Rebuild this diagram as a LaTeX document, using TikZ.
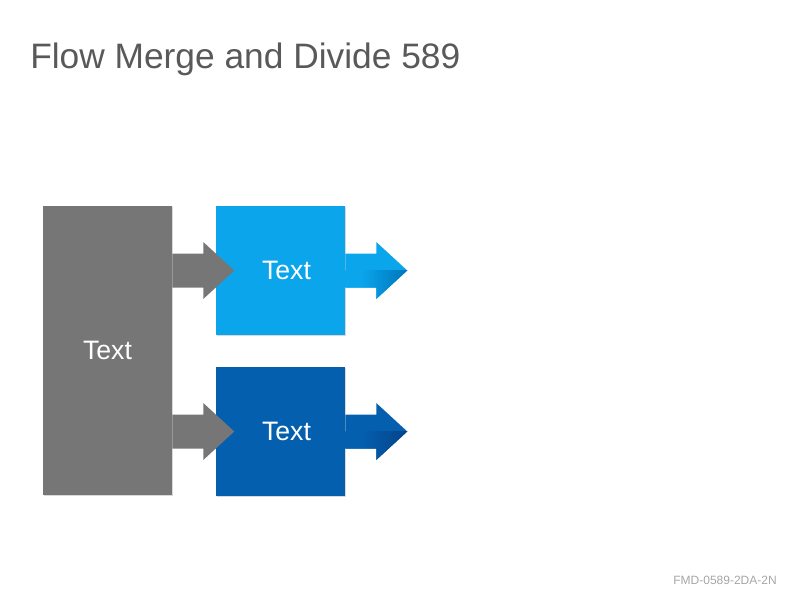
\documentclass[tikz,border=0pt]{standalone}
\usepackage{fontspec}
\setmainfont{Liberation Sans}
\usetikzlibrary{calc,shadows}

\definecolor{srcgray}{RGB}{118,118,118}
\definecolor{skyblue}{RGB}{11,165,236}
\definecolor{skydark}{RGB}{0,120,190}
\definecolor{deepblue}{RGB}{5,95,175}
\definecolor{deepdark}{RGB}{3,70,140}
\definecolor{titlegray}{RGB}{89,89,89}
\definecolor{footgray}{RGB}{166,166,166}

\pgfdeclarehorizontalshading{skyfade}{100bp}{color(0bp)=(skyblue); color(38bp)=(skyblue);
  color(72bp)=(skydark); color(100bp)=(skydark)}
\pgfdeclarehorizontalshading{deepfade}{100bp}{color(0bp)=(deepblue); color(38bp)=(deepblue);
  color(72bp)=(deepdark); color(100bp)=(deepdark)}

% block arrow: start point on the axis, then the style
\newcommand{\flowarrow}[2]{%
  \path[#2] (#1) ++(0,-17) -- ++(31,0) -- ++(0,-11.5) -- ++(31,28.5)
    -- ++(-31,28.5) -- ++(0,-11.5) -- ++(-31,0) -- cycle;}

\tikzset{
  flowbox/.style={draw=none, inner sep=0pt, minimum width=96.75pt,
    text=white, font=\fontsize{20}{24}\selectfont,
    drop shadow={shadow xshift=0.6pt, shadow yshift=-0.9pt, opacity=0.3}},
  boxlabel/.style={text=white, font=\fontsize{20}{24}\selectfont, inner sep=0pt}
}

\begin{document}
\begin{tikzpicture}[x=0.75pt, y=-0.75pt]

    \useasboundingbox (0,0) rectangle (800,600);

    \node [anchor=base west, inner sep=0pt, text=titlegray, font=\fontsize{26.5}{30}\selectfont]
      (title) at (30,68) {Flow Merge and Divide 589};

    \node [flowbox, fill=srcgray, minimum height=216.75pt] (src) at (107.5,350.5) {Text};
    \node [flowbox, fill=skyblue, minimum height=96.75pt,
      label={[boxlabel, xshift=4.5pt]center:Text}] (upper) at (280.5,270.5) {};
    \node [flowbox, fill=deepblue, minimum height=96.75pt,
      label={[boxlabel, xshift=4.5pt]center:Text}] (lower) at (280.5,431.5) {};

    % merge side
    \flowarrow{src.east |- upper.center}{fill=srcgray}
    \flowarrow{src.east |- lower.center}{fill=srcgray}

    % divide side
    \flowarrow{upper.east}{fill=skyblue}
    \begin{scope}
      \clip (upper.east) rectangle ++(62,30);
      \flowarrow{upper.east}{shading=skyfade}
    \end{scope}
    \flowarrow{lower.east}{fill=deepblue}
    \begin{scope}
      \clip (lower.east) rectangle ++(62,30);
      \flowarrow{lower.east}{shading=deepfade}
    \end{scope}

    \node [anchor=base east, inner sep=0pt, text=footgray, font=\fontsize{9}{11}\selectfont]
      (code) at (777,584) {FMD-0589-2DA-2N};

\end{tikzpicture}
\end{document}
